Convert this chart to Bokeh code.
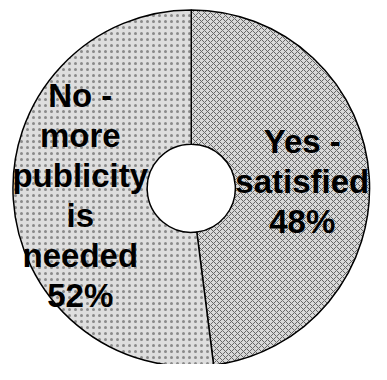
import numpy as np
from bokeh.plotting import figure
from bokeh.models import ColumnDataSource, Range1d
from bokeh.core.properties import value
from bokeh.embed import file_html
from bokeh.resources import INLINE

# data
categories = ["Yes -\nsatisfied", "No -\nmore\npublicity\nis\nneeded"]
values = [48, 52]
fills = ["#d8d8d8", "#dedede"]
hatches = ["x", "."]
hatch_colors = ["#666666", "#8a8a8a"]

# geometry (data units)
cx, cy = 199, 184
r_out, r_in = 186, 46
label_r = 116

vals = np.array(values, dtype=float)
frac = vals / vals.sum()
cum = np.cumsum(frac)
starts = np.pi / 2 - np.concatenate([[0], cum[:-1]]) * 2 * np.pi
ends = np.pi / 2 - cum * 2 * np.pi
mids = (starts + ends) / 2
labels = [f"{c}\n{int(round(v))}%" for c, v in zip(categories, vals)]

src = ColumnDataSource(dict(
    start=starts, end=ends, fill=fills, hatch=hatches, hcol=hatch_colors,
    lx=cx + label_r * np.cos(mids), ly=cy + label_r * np.sin(mids),
    label=labels,
))

p = figure(width=371, height=364, output_backend="svg", toolbar_location=None,
           x_range=Range1d(0, 387), y_range=Range1d(0, 380), min_border=0)
p.axis.visible = False
p.grid.visible = False
p.outline_line_color = None
p.background_fill_color = "white"

p.annular_wedge(x=cx, y=cy, inner_radius=r_in, outer_radius=r_out,
                start_angle="start", end_angle="end", direction="clock",
                fill_color="fill", hatch_pattern="hatch", hatch_color="hcol",
                hatch_scale=6, hatch_weight=1, line_color="black", line_width=1.5,
                source=src)

p.text(x="lx", y="ly", text="label", source=src, text_align="center",
       text_baseline="middle", text_font=value("Liberation Sans"),
       text_font_style="bold", text_font_size="33px", text_color="black",
       text_line_height=1.08)

open("out.html", "w").write(file_html(p, INLINE))
